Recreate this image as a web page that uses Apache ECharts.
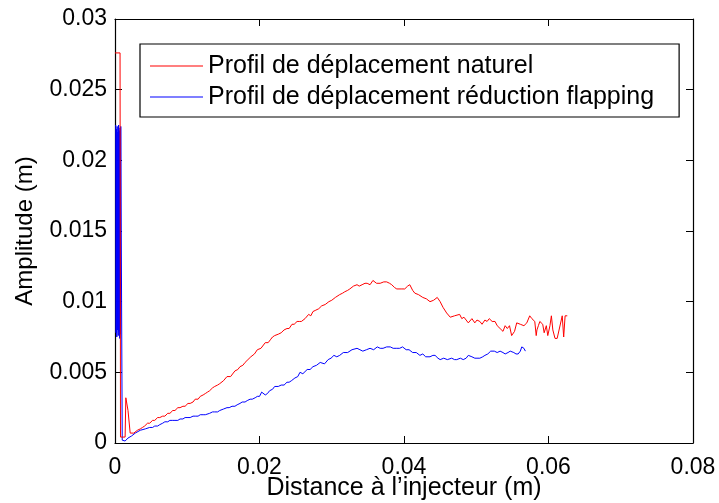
<!DOCTYPE html>
<html><head><meta charset="utf-8">
<script src="https://cdn.jsdelivr.net/npm/echarts@6/dist/echarts.min.js"></script>
<style>html,body{margin:0;padding:0;background:#fff}#c{width:719px;height:503px}</style>
</head><body><div id="c"></div>
<script>
const seriesNames = ['Profil de déplacement naturel', 'Profil de déplacement réduction flapping'];
const xAxisName = 'Distance à l\u2019injecteur (m)';
const yAxisName = 'Amplitude (m)';

const redX = [0, 0.0001, 0.0007, 0.00076, 0.0014, 0.0015, 0.0018, 0.0021, 0.0026, 0.0031, 0.0035, 0.0038, 0.0041, 0.0045, 0.0048, 0.0052, 0.0055, 0.0059, 0.0062, 0.0066, 0.0069, 0.0073, 0.0076, 0.0080, 0.0083, 0.0087, 0.0090, 0.0094, 0.0097, 0.0101, 0.0104, 0.0108, 0.0111, 0.0115, 0.0118, 0.0122, 0.0125, 0.0128, 0.0131, 0.0135, 0.0138, 0.0142, 0.0145, 0.0150, 0.0155, 0.0160, 0.0166, 0.0170, 0.0173, 0.0177, 0.0180, 0.0184, 0.0188, 0.0193, 0.0197, 0.0202, 0.0208, 0.0212, 0.0215, 0.0218, 0.0221, 0.0226, 0.0230, 0.0234, 0.0238, 0.0241, 0.0245, 0.0248, 0.0252, 0.0255, 0.0258, 0.0263, 0.0268, 0.0271, 0.0274, 0.0278, 0.0282, 0.0286, 0.0291, 0.0296, 0.0300, 0.0305, 0.0311, 0.0315, 0.0318, 0.0322, 0.0325, 0.0330, 0.0335, 0.0338, 0.0342, 0.0346, 0.0349, 0.0353, 0.0357, 0.0362, 0.0367, 0.0372, 0.0376, 0.0380, 0.0383, 0.0387, 0.0390, 0.0396, 0.0401, 0.0405, 0.0408, 0.0412, 0.0415, 0.0420, 0.0426, 0.0431, 0.0436, 0.0441, 0.0446, 0.0450, 0.0454, 0.0459, 0.0464, 0.0470, 0.0477, 0.0480, 0.0483, 0.0486, 0.0489, 0.0494, 0.0498, 0.0501, 0.0505, 0.0508, 0.0512, 0.0515, 0.0518, 0.0522, 0.0526, 0.0529, 0.0533, 0.0537, 0.0540, 0.0543, 0.0546, 0.0549, 0.0553, 0.0556, 0.0558, 0.0561, 0.0566, 0.0570, 0.0574, 0.0577, 0.0581, 0.0583, 0.0584, 0.0586, 0.0588, 0.0592, 0.0594, 0.0597, 0.0599, 0.0602, 0.0604, 0.0606, 0.0609, 0.0612, 0.0619, 0.0621, 0.0623, 0.0626, 0.0627];
const redY = [0.0276, 0.0276, 0.0276, 0.00042, 0.00042, 0.0032, 0.0023, 0.0007, 0.0007, 0.0009, 0.0010, 0.0011, 0.0012, 0.0014, 0.0014, 0.0016, 0.0016, 0.0018, 0.0018, 0.0019, 0.0019, 0.0021, 0.0021, 0.0023, 0.0023, 0.0025, 0.0025, 0.0026, 0.0026, 0.0028, 0.0028, 0.0029, 0.0031, 0.0031, 0.0033, 0.0034, 0.0035, 0.0036, 0.0037, 0.0039, 0.0040, 0.0041, 0.0042, 0.0044, 0.0047, 0.0047, 0.0051, 0.0052, 0.0054, 0.0055, 0.0057, 0.0059, 0.0061, 0.0063, 0.0066, 0.0067, 0.0071, 0.0071, 0.0073, 0.0075, 0.0076, 0.0077, 0.0078, 0.0080, 0.0081, 0.0081, 0.0084, 0.0084, 0.0086, 0.0086, 0.0086, 0.0088, 0.0091, 0.0090, 0.0093, 0.0094, 0.0095, 0.0097, 0.0098, 0.0100, 0.0101, 0.0103, 0.0105, 0.0106, 0.0107, 0.0108, 0.0109, 0.0111, 0.0112, 0.0111, 0.0112, 0.0113, 0.0113, 0.0112, 0.0115, 0.0113, 0.0113, 0.0114, 0.0114, 0.0113, 0.0112, 0.0110, 0.0109, 0.0109, 0.0109, 0.0111, 0.0112, 0.0108, 0.0106, 0.0105, 0.0103, 0.0102, 0.0100, 0.0101, 0.0103, 0.0100, 0.0096, 0.0092, 0.0089, 0.0090, 0.0091, 0.0088, 0.0089, 0.0087, 0.0085, 0.0088, 0.0085, 0.0087, 0.0086, 0.0084, 0.0087, 0.0086, 0.0088, 0.0086, 0.0086, 0.0083, 0.0081, 0.0079, 0.0083, 0.0081, 0.0083, 0.0076, 0.0079, 0.0085, 0.0085, 0.0084, 0.0083, 0.0085, 0.0090, 0.0088, 0.0086, 0.0076, 0.0080, 0.0083, 0.0086, 0.0084, 0.0078, 0.0083, 0.0076, 0.0083, 0.0090, 0.0080, 0.0074, 0.0074, 0.0090, 0.0075, 0.0090, 0.0090];

const blueX = [0.00010, 0.00015, 0.00020, 0.00025, 0.00030, 0.00035, 0.00040, 0.00045, 0.00050, 0.00055, 0.00060, 0.00065, 0.00070, 0.00075, 0.00080, 0.0010, 0.0014, 0.0018, 0.0023, 0.0028, 0.0035, 0.0042, 0.0048, 0.0052, 0.0055, 0.0059, 0.0062, 0.0066, 0.0069, 0.0073, 0.0076, 0.0080, 0.0083, 0.0087, 0.0090, 0.0094, 0.0097, 0.0101, 0.0104, 0.0108, 0.0111, 0.0115, 0.0118, 0.0122, 0.0125, 0.0131, 0.0135, 0.0138, 0.0142, 0.0145, 0.0150, 0.0155, 0.0158, 0.0162, 0.0166, 0.0169, 0.0173, 0.0176, 0.0180, 0.0183, 0.0187, 0.0190, 0.0194, 0.0197, 0.0200, 0.0203, 0.0208, 0.0211, 0.0214, 0.0218, 0.0221, 0.0226, 0.0230, 0.0234, 0.0238, 0.0241, 0.0244, 0.0249, 0.0253, 0.0256, 0.0260, 0.0266, 0.0270, 0.0274, 0.0279, 0.0284, 0.0290, 0.0295, 0.0299, 0.0303, 0.0307, 0.0311, 0.0316, 0.0322, 0.0328, 0.0335, 0.0339, 0.0343, 0.0348, 0.0353, 0.0358, 0.0363, 0.0367, 0.0371, 0.0376, 0.0381, 0.0385, 0.0390, 0.0394, 0.0398, 0.0403, 0.0407, 0.0412, 0.0417, 0.0422, 0.0426, 0.0430, 0.0436, 0.0440, 0.0443, 0.0447, 0.0450, 0.0455, 0.0460, 0.0466, 0.0470, 0.0473, 0.0478, 0.0482, 0.0486, 0.0489, 0.0494, 0.0498, 0.0501, 0.0505, 0.0509, 0.0512, 0.0516, 0.0520, 0.0525, 0.0529, 0.0533, 0.0537, 0.0540, 0.0544, 0.0547, 0.0552, 0.0555, 0.0558, 0.0561, 0.0563, 0.0566, 0.0568];
const blueY = [0.0225, 0.0078, 0.0222, 0.0075, 0.0224, 0.0080, 0.0220, 0.0076, 0.0225, 0.0079, 0.0221, 0.0074, 0.0223, 0.0077, 0.0224, 0.0002, 0.00014, 0.00035, 0.0005, 0.0007, 0.0009, 0.0010, 0.0011, 0.0011, 0.0012, 0.0012, 0.0013, 0.0014, 0.0015, 0.0015, 0.0016, 0.0016, 0.0016, 0.0016, 0.0017, 0.0017, 0.0018, 0.0018, 0.0018, 0.0019, 0.0019, 0.0019, 0.0020, 0.0020, 0.0020, 0.0021, 0.0022, 0.0022, 0.0022, 0.0023, 0.0024, 0.0025, 0.0025, 0.0026, 0.0026, 0.0027, 0.0028, 0.0029, 0.0029, 0.0030, 0.0031, 0.0031, 0.0032, 0.0033, 0.0033, 0.0036, 0.0034, 0.0035, 0.0037, 0.0038, 0.0040, 0.0040, 0.0041, 0.0041, 0.0043, 0.0043, 0.0044, 0.0046, 0.0047, 0.0050, 0.0049, 0.0052, 0.0052, 0.0054, 0.0055, 0.0057, 0.0056, 0.0059, 0.0060, 0.0062, 0.0061, 0.0062, 0.0064, 0.0064, 0.0066, 0.0067, 0.0066, 0.0065, 0.0066, 0.0067, 0.0066, 0.0068, 0.0067, 0.0067, 0.0068, 0.0068, 0.0067, 0.0067, 0.0067, 0.0068, 0.0066, 0.0066, 0.0064, 0.0064, 0.0062, 0.0063, 0.0061, 0.0061, 0.0062, 0.0062, 0.0060, 0.0059, 0.0060, 0.0059, 0.0060, 0.0059, 0.0059, 0.0060, 0.0059, 0.0060, 0.0062, 0.0061, 0.0060, 0.0060, 0.0060, 0.0061, 0.0062, 0.0063, 0.0065, 0.0065, 0.0064, 0.0065, 0.0064, 0.0063, 0.0064, 0.0065, 0.0064, 0.0063, 0.0063, 0.0065, 0.0068, 0.0067, 0.0065, 0.0066, 0.0066];

const xTicks = [0, 0.02, 0.04, 0.06, 0.08];
const yTicks = [0, 0.005, 0.01, 0.015, 0.02, 0.025, 0.03];

const pairs = (xs, ys) => xs.map((x, i) => [x, ys[i]]);
const font = 'Liberation Sans, Arial, Helvetica, sans-serif';
const axisCommon = {
  type: 'value',
  axisLine: { show: true, onZero: false, lineStyle: { color: '#000', width: 1.2 } },
  axisTick: { show: true, inside: true, length: 7, lineStyle: { color: '#000', width: 1 } },
  splitLine: { show: false }
};
const chart = echarts.init(document.getElementById('c'), null, { renderer: 'canvas' });
chart.setOption({
  animation: false,
  backgroundColor: '#fff',
  grid: { left: 115, right: 26, top: 19, bottom: 60, containLabel: false, outerBoundsMode: 'none' },
  legend: {
    orient: 'vertical', left: 140, top: 44,
    data: seriesNames,
    icon: 'rect', itemWidth: 53, itemHeight: 1.2, itemGap: 3,
    padding: [8, 25, 6, 10],
    borderColor: '#000', borderWidth: 1.2, backgroundColor: '#fff',
    textStyle: { fontFamily: font, fontSize: 25, color: '#000', lineHeight: 28 }
  },
  xAxis: [
    Object.assign({}, axisCommon, {
      min: xTicks[0], max: xTicks[xTicks.length - 1], interval: xTicks[1] - xTicks[0],
      position: 'bottom',
      name: xAxisName, nameLocation: 'middle', nameGap: 33, nameMoveOverlap: false,
      nameTextStyle: { fontFamily: font, fontSize: 25, color: '#000', verticalAlign: 'top' },
      axisLabel: { fontFamily: font, fontSize: 23, color: '#000', margin: 13 }
    }),
    Object.assign({}, axisCommon, {
      min: xTicks[0], max: xTicks[xTicks.length - 1], interval: xTicks[1] - xTicks[0],
      position: 'top', axisLabel: { show: false }
    })
  ],
  yAxis: [
    Object.assign({}, axisCommon, {
      min: yTicks[0], max: yTicks[yTicks.length - 1], interval: yTicks[1] - yTicks[0],
      position: 'left',
      name: yAxisName, nameLocation: 'middle', nameGap: 78, nameMoveOverlap: false,
      nameTextStyle: { fontFamily: font, fontSize: 24, color: '#000' },
      axisLabel: { fontFamily: font, fontSize: 23, color: '#000', margin: 8 }
    }),
    Object.assign({}, axisCommon, {
      min: yTicks[0], max: yTicks[yTicks.length - 1], interval: yTicks[1] - yTicks[0],
      position: 'right', axisLabel: { show: false }
    })
  ],
  series: [
    { name: seriesNames[0], type: 'line', data: pairs(redX, redY), showSymbol: false, symbol: 'none',
      lineStyle: { color: '#ff0000', width: 1 }, itemStyle: { color: '#ff0000' }, z: 3 },
    { name: seriesNames[1], type: 'line', data: pairs(blueX, blueY), showSymbol: false, symbol: 'none',
      lineStyle: { color: '#0000ff', width: 1 }, itemStyle: { color: '#0000ff' }, z: 2 }
  ]
});
</script></body></html>
